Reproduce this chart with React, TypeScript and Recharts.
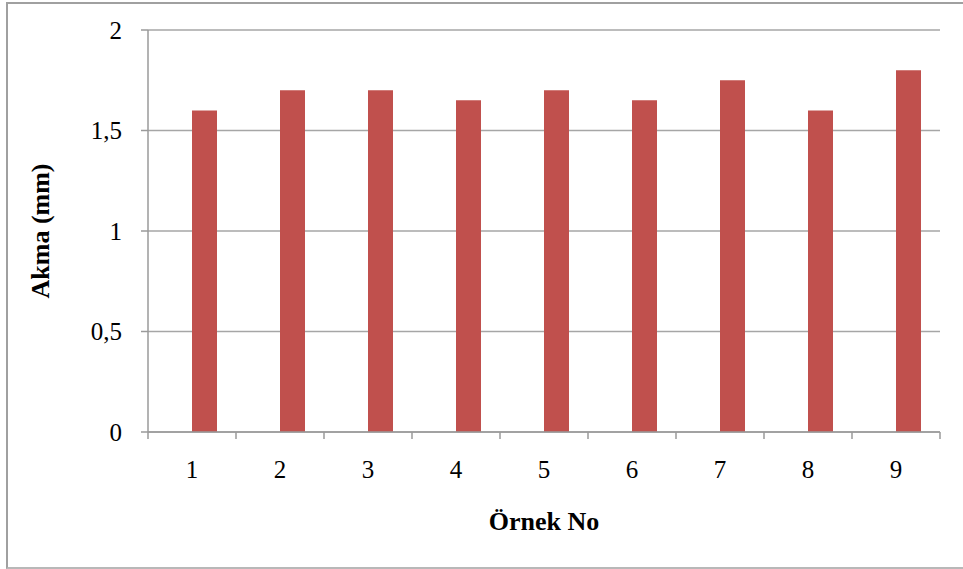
import React from "react";
import { BarChart, Bar, XAxis, YAxis, CartesianGrid } from "recharts";

const sampleNos = ["1", "2", "3", "4", "5", "6", "7", "8", "9"];
const akmaValues = [1.6, 1.7, 1.7, 1.65, 1.7, 1.65, 1.75, 1.6, 1.8];
// empty first series keeps the bars right of the category centre, like the original workbook
const emptySeries = [null, null, null, null, null, null, null, null, null];
const yTicks = [0, 0.5, 1, 1.5, 2];

const data = sampleNos.map((name, i) => ({
  name,
  bos: emptySeries[i],
  akma: akmaValues[i],
}));

const AXIS = "#9a9a9a";
const GRID = "#a6a6a6";
const BAR = "#C0504D";
const FONT = "'Liberation Serif', 'Times New Roman', serif";

const formatTr = (v: number) => String(v).replace(".", ",");

// category label plus tick marks on the band edges (Excel style)
function CategoryTick(props: any) {
  const { x, y, payload, index, visibleTicksCount } = props;
  const half = payload?.offset ?? 0;
  const isLast = index === visibleTicksCount - 1;
  return (
    <g>
      <line x1={x - half} y1={y} x2={x - half} y2={y + 7} stroke={AXIS} strokeWidth={1.5} />
      {isLast && <line x1={x + half} y1={y} x2={x + half} y2={y + 7} stroke={AXIS} strokeWidth={1.5} />}
      <text x={x} y={y + 46} textAnchor="middle" fill="#000" fontSize={25} fontFamily={FONT}>
        {payload.value}
      </text>
    </g>
  );
}

export default function App() {
  return (
    <div style={{ position: "absolute", left: 0, top: 0, width: 963, height: 569, background: "#fff" }}>
      <div
        style={{
          position: "absolute",
          left: 6,
          top: 2,
          width: 980,
          height: 563,
          borderLeft: "2px solid #a0a0a0",
          borderTop: "2px solid #a0a0a0",
          borderBottom: "2px solid #b8b8b8",
        }}
      />
      <BarChart
        width={963}
        height={569}
        data={data}
        margin={{ top: 30, right: 23, left: 0, bottom: 31 }}
        barGap={0}
        barSize={25}
        style={{ position: "absolute", left: 0, top: 0, fontFamily: FONT }}
      >
        <CartesianGrid vertical={false} stroke={GRID} strokeWidth={1.5} />
        <XAxis
          dataKey="name"
          height={106}
          tickSize={0}
          tickMargin={0}
          tickLine={false}
          interval={0}
          axisLine={{ stroke: AXIS, strokeWidth: 1.5 }}
          tick={<CategoryTick />}
          label={{
            value: "Örnek No",
            position: "insideBottom",
            offset: 8,
            style: { fill: "#000", fontSize: 26, fontWeight: "bold", fontFamily: FONT },
          }}
        />
        <YAxis
          width={148}
          domain={[0, 2]}
          ticks={yTicks}
          tickFormatter={formatTr}
          tickSize={7}
          tickMargin={19}
          stroke={AXIS}
          axisLine={{ stroke: AXIS, strokeWidth: 1.5 }}
          tickLine={{ stroke: AXIS, strokeWidth: 1.5 }}
          tick={{ fill: "#000", fontSize: 25, fontFamily: FONT }}
          label={{
            value: "Akma (mm)",
            angle: -90,
            position: "insideLeft",
            offset: 40,
            style: { fill: "#000", fontSize: 26, fontWeight: "bold", fontFamily: FONT, textAnchor: "middle" },
          }}
        />
        <Bar dataKey="bos" fill={BAR} isAnimationActive={false} />
        <Bar dataKey="akma" fill={BAR} isAnimationActive={false} />
      </BarChart>
    </div>
  );
}
